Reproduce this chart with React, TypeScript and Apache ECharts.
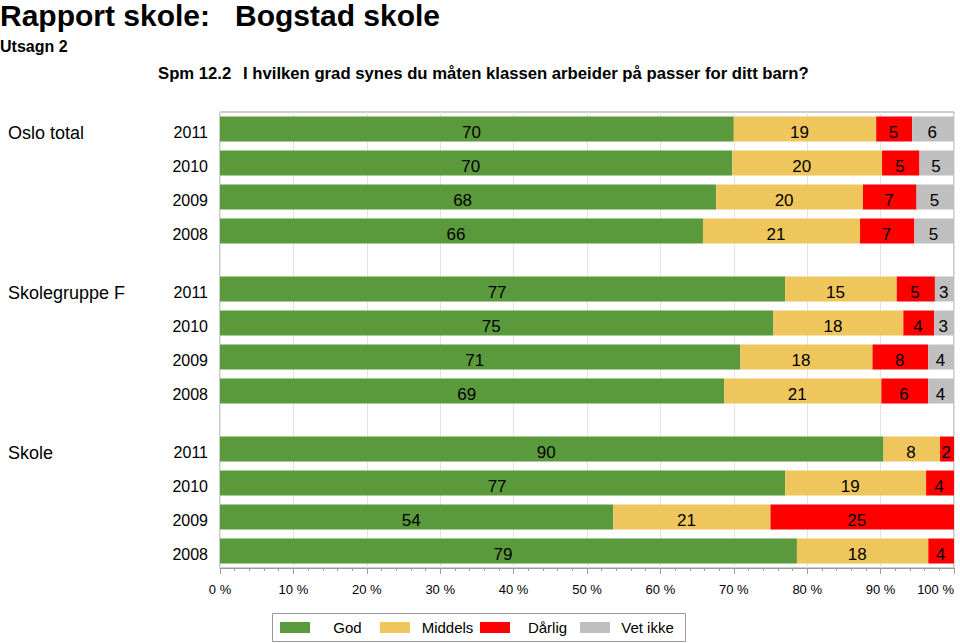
import React, { useEffect, useRef } from "react";
import * as echarts from "echarts";

const FONT = "'Liberation Sans', Arial, Helvetica, sans-serif";

const years = ["2011", "2010", "2009", "2008"];
const groups = ["Oslo total", "Skolegruppe F", "Skole"];
const categories = ["God", "Middels", "Dårlig", "Vet ikke"];
const colors = ["#5B9A3C", "#EFC65C", "#FF0000", "#BFBFBF"];

// Percent shares per group (rows: 2011, 2010, 2009, 2008)
const god = [
  [70.0, 69.8, 67.6, 65.8],
  [77.0, 75.4, 70.9, 68.7],
  [90.4, 77.0, 53.6, 78.6],
];
const middels = [
  [19.4, 20.4, 20.0, 21.4],
  [15.2, 17.7, 18.0, 21.4],
  [7.7, 19.2, 21.4, 17.9],
];
const darlig = [
  [4.9, 5.1, 7.3, 7.4],
  [5.2, 4.2, 7.6, 6.4],
  [1.9, 3.8, 25.0, 3.5],
];
const vetIkke = [
  [5.7, 4.7, 5.1, 5.4],
  [2.6, 2.7, 3.5, 3.5],
  [0, 0, 0, 0],
];

const seriesValues = [god, middels, darlig, vetIkke];

const titleMain1 = "Rapport skole:";
const titleMain2 = "Bogstad skole";
const subTitle = "Utsagn 2";
const questionNo = "Spm 12.2";
const questionText = "I hvilken grad synes du måten klassen arbeider på passer for ditt barn?";

export default function App() {
  const ref = useRef<HTMLDivElement>(null);

  useEffect(() => {
    if (!ref.current) return;
    const chart = echarts.init(ref.current, undefined, { renderer: "svg" });

    const gridLeft = 220;
    const gridRight = 6;
    const gridTops = [112, 272, 432];
    const gridHeight = 136;

    const grids: any[] = [
      {
        left: gridLeft,
        right: gridRight,
        top: gridTops[0],
        height: gridTops[2] + gridHeight - gridTops[0],
        show: true,
        borderColor: "#9a9a9a",
        borderWidth: 1,
        backgroundColor: "transparent",
        containLabel: false,
        outerBoundsMode: "none",
      },
    ];
    const xAxes: any[] = [
      {
        type: "value",
        gridIndex: 0,
        min: 0,
        max: 100,
        interval: 10,
        axisLine: { show: true, lineStyle: { color: "#9a9a9a" } },
        axisTick: { show: true, length: 6, lineStyle: { color: "#9a9a9a" } },
        minorTick: { show: true, splitNumber: 5, length: 3, lineStyle: { color: "#9a9a9a" } },
        splitLine: { show: true, lineStyle: { color: "#e3e3e3", width: 1 } },
        axisLabel: {
          formatter: "{value} %",
          color: "#000",
          fontSize: 13,
          fontFamily: FONT,
          margin: 15,
          alignMaxLabel: "right",
        },
      },
    ];
    const yAxes: any[] = [
      { type: "value", gridIndex: 0, show: false, min: 0, max: 1 },
    ];
    const series: any[] = [];

    groups.forEach((g, gi) => {
      grids.push({
        left: gridLeft,
        right: gridRight,
        top: gridTops[gi],
        height: gridHeight,
        containLabel: false,
        outerBoundsMode: "none",
      });
      xAxes.push({
        type: "value",
        gridIndex: gi + 1,
        min: 0,
        max: 100,
        show: false,
      });
      yAxes.push({
        type: "category",
        gridIndex: gi + 1,
        data: years,
        inverse: true,
        position: "left",
        axisLine: { show: false },
        axisTick: { show: false },
        splitLine: { show: false },
        axisLabel: {
          interval: 0,
          color: "#000",
          fontSize: 16,
          fontFamily: FONT,
          margin: 12,
          verticalAlign: "top",
          lineHeight: 7,
        },
      });
      yAxes.push({
        type: "category",
        gridIndex: gi + 1,
        data: years,
        inverse: true,
        position: "left",
        axisLine: { show: false },
        axisTick: { show: false },
        splitLine: { show: false },
        axisLabel: {
          interval: 0,
          color: "#000",
          fontSize: 18,
          fontFamily: FONT,
          align: "left",
          margin: 212,
          verticalAlign: "top",
          lineHeight: 8,
          formatter: (_v: string, i: number) => (i === 0 ? g : ""),
        },
      });
      seriesValues.forEach((vals, ci) => {
        series.push({
          type: "bar",
          name: categories[ci],
          xAxisIndex: gi + 1,
          yAxisIndex: 1 + 2 * gi,
          stack: "g" + gi,
          barWidth: 25,
          silent: true,
          data: vals[gi],
          itemStyle: { color: colors[ci] },
          label: {
            show: true,
            position: "inside",
            align: "right",
            color: "#000",
            fontSize: 17,
            fontFamily: FONT,
            textBorderWidth: 0,
            offset: [4, 3],
            formatter: (p: any) => (p.value > 0 ? String(Math.round(p.value)) : ""),
          },
        });
      });
    });

    const legends = categories.map((c, i) => ({
      data: [c],
      selectedMode: false,
      left: 280 + i * 100,
      top: 620,
      orient: "horizontal",
      icon: "rect",
      itemWidth: 30,
      itemHeight: 11,
      itemGap: 0,
      padding: 0,
      formatter: "{a|{name}}",
      textStyle: {
        color: "#000",
        fontSize: 15,
        fontFamily: FONT,
        rich: { a: { width: 65, align: "center", fontSize: 15, color: "#000", fontFamily: FONT } },
      },
    }));

    chart.setOption({
      animation: false,
      backgroundColor: "#fff",
      textStyle: { fontFamily: FONT },
      grid: grids,
      xAxis: xAxes,
      yAxis: yAxes,
      series,
      legend: legends,
      graphic: [
        {
          type: "rect",
          shape: { x: 272.5, y: 613.5, width: 413, height: 28 },
          style: { fill: "none", stroke: "#9a9a9a", lineWidth: 1 },
          silent: true,
        },
        {
          type: "text",
          left: 0,
          top: 0,
          style: { text: titleMain1, font: `bold 30px ${FONT}`, fill: "#000" },
        },
        {
          type: "text",
          left: 235,
          top: 0,
          style: { text: titleMain2, font: `bold 30px ${FONT}`, fill: "#000" },
        },
        {
          type: "text",
          left: 0,
          top: 38,
          style: { text: subTitle, font: `bold 16px ${FONT}`, fill: "#000" },
        },
        {
          type: "text",
          left: 158,
          top: 65,
          style: { text: questionNo, font: `bold 16.7px ${FONT}`, fill: "#000" },
        },
        {
          type: "text",
          left: 243,
          top: 65,
          style: { text: questionText, font: `bold 16.7px ${FONT}`, fill: "#000" },
        },
      ],
    });

    return () => chart.dispose();
  }, []);

  return (
    <div
      ref={ref}
      style={{ position: "fixed", left: 0, top: 0, width: 960, height: 643, background: "#fff" }}
    />
  );
}
